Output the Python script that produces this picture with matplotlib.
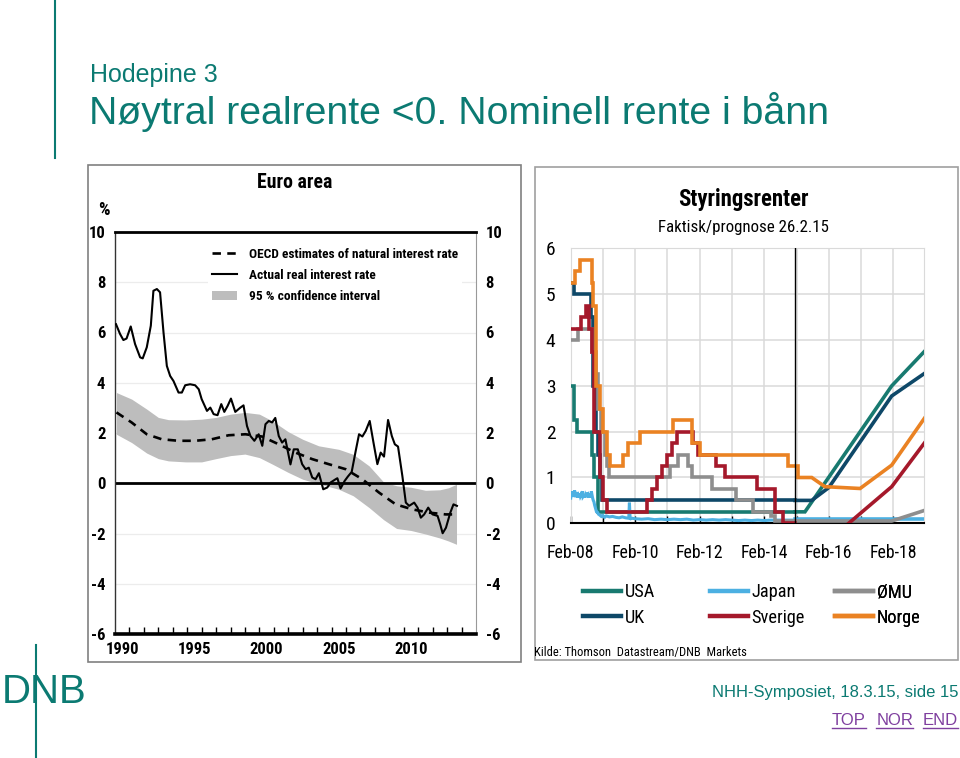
import matplotlib
matplotlib.use('Agg')
import matplotlib.pyplot as plt
from matplotlib import font_manager as fm
from matplotlib.font_manager import FontProperties
from matplotlib.lines import Line2D
from matplotlib.patches import Rectangle, Patch

# ---------------- data: left chart (Euro area) ----------------
real_years = [1990.07, 1990.35, 1990.58, 1990.80, 1991.09, 1991.39, 1991.74, 1991.92, 1992.20, 1992.48,
              1992.66, 1992.90, 1993.12, 1993.36, 1993.59, 1993.82, 1994.05, 1994.40, 1994.63, 1994.86,
              1995.20, 1995.55, 1995.80, 1996.00, 1996.37, 1996.60, 1996.83, 1997.10, 1997.36, 1997.57,
              1997.80, 1998.03, 1998.33, 1998.68, 1998.90, 1999.14, 1999.38, 1999.65, 1999.95, 2000.20,
              2000.42, 2000.65, 2000.88, 2001.10, 2001.34, 2001.57, 2001.80, 2002.15, 2002.38, 2002.66,
              2002.96, 2003.20, 2003.42, 2003.66, 2003.89, 2004.12, 2004.42, 2004.70, 2004.93, 2005.28,
              2005.40, 2005.62, 2005.90, 2006.13, 2006.39, 2006.67, 2006.90, 2007.13, 2007.36, 2007.64,
              2007.90, 2008.17, 2008.40, 2008.63, 2008.91, 2009.17, 2009.38, 2009.60, 2009.90, 2010.14,
              2010.37, 2010.72, 2010.95, 2011.18, 2011.41, 2011.69, 2011.99, 2012.34, 2012.52, 2012.69,
              2012.92, 2013.22, 2013.44, 2013.68]
real_rate = [6.33, 5.94, 5.70, 5.76, 6.24, 5.54, 5.01, 4.97, 5.41, 6.27,
             7.66, 7.73, 7.60, 6.00, 4.67, 4.27, 4.07, 3.61, 3.61, 3.90,
             3.94, 3.90, 3.74, 3.35, 2.88, 3.01, 2.75, 2.71, 3.15, 2.84,
             3.08, 3.37, 2.84, 3.01, 3.10, 2.28, 1.88, 1.69, 1.95, 1.49,
             2.35, 2.48, 2.42, 2.60, 1.88, 1.62, 1.75, 0.75, 1.35, 1.35,
             0.76, 0.56, 0.62, 0.23, 0.16, 0.40, -0.24, -0.17, 0.03, 0.16,
             0.20, -0.21, 0.09, 0.27, 0.45, 1.29, 1.95, 1.86, 2.08, 2.48,
             1.62, 0.76, 1.22, 1.06, 2.52, 1.88, 1.55, 1.46, 0.29, -0.77,
             -0.90, -0.77, -0.97, -1.37, -1.24, -0.97, -1.24, -1.30, -1.63, -1.99,
             -1.77, -1.17, -0.84, -0.90]

oecd_years = [1990.1, 1991.15, 1992.2, 1993.24, 1994.4, 1995.55, 1996.7, 1997.87, 1999.03, 2000.18,
              2001.34, 2002.5, 2003.66, 2004.8, 2005.97, 2007.13, 2008.28, 2009.44, 2010.6, 2011.76,
              2012.9, 2013.6]
oecd_natural = [2.82, 2.42, 1.95, 1.75, 1.69, 1.69, 1.75, 1.91, 1.95, 1.86,
                1.55, 1.22, 0.96, 0.76, 0.56, 0.16, -0.37, -0.84, -1.04, -1.17,
                -1.24, -1.24]

band_years = [1990.1, 1991.15, 1992.2, 1993.0, 1993.7, 1994.9, 1996.0, 1997.0, 1998.0, 1999.0,
              2000.0, 2000.9, 2002.0, 2003.0, 2004.1, 2005.5, 2006.5, 2007.6, 2008.6, 2009.5,
              2010.5, 2011.5, 2012.5, 2013.1, 2013.65]
band_upper = [3.61, 3.35, 2.95, 2.62, 2.53, 2.52, 2.55, 2.62, 2.75, 2.82,
              2.75, 2.48, 2.05, 1.75, 1.49, 1.35, 1.15, 0.69, 0.05, -0.10,
              -0.16, -0.28, -0.26, -0.18, -0.04]
band_lower = [1.95, 1.62, 1.20, 0.98, 0.89, 0.85, 0.85, 0.98, 1.10, 1.16,
              1.02, 0.76, 0.43, 0.16, -0.02, -0.24, -0.50, -0.97, -1.45, -1.80,
              -1.88, -2.02, -2.18, -2.30, -2.43]

left_yticks = [-6, -4, -2, 0, 2, 4, 6, 8, 10]
left_year_labels = ['1990', '1995', '2000', '2005', '2010']
left_label_years = [1990, 1995, 2000, 2005, 2010]

# ---------------- data: right chart (policy rates) ----------------
# x = years after Feb-08
usa_x = [0.00, 0.10, 0.20, 0.65, 0.72, 0.86, 6.95]
usa_y = [3.00, 2.25, 2.00, 1.50, 1.00, 0.25, 0.25]
usa_fc_x = [6.95, 7.26, 9.95, 10.96]
usa_fc_y = [0.25, 0.25, 3.00, 3.75]

uk_x = [0.00, 0.11, 0.62, 0.70, 0.78, 0.86, 0.91, 0.96, 6.95]
uk_y = [5.25, 5.00, 4.50, 3.00, 2.00, 1.50, 1.00, 0.50, 0.50]
uk_fc_x = [6.95, 7.47, 8.00, 9.95, 10.96]
uk_fc_y = [0.50, 0.50, 0.78, 2.78, 3.27]

japan_x = [0.00, 0.02, 0.04, 0.06, 0.08, 0.10, 0.12, 0.14, 0.16, 0.18,
           0.20, 0.22, 0.24, 0.26, 0.28, 0.30, 0.32, 0.34, 0.36, 0.38,
           0.40, 0.42, 0.44, 0.46, 0.48, 0.50, 0.52, 0.54, 0.56, 0.58,
           0.60, 0.62, 0.64, 0.66, 0.68, 0.70, 0.72, 0.74, 0.76, 0.78,
           0.80, 0.83, 0.86, 0.90, 0.95, 1.00, 1.05, 1.10, 1.20, 1.30,
           1.40, 1.50, 1.60, 1.70, 1.80, 1.82, 1.84, 1.86, 1.90, 2.00,
           2.20, 2.40, 2.60, 2.80, 3.00, 3.20, 3.40, 3.60, 3.80, 4.00,
           4.20, 4.40, 4.60, 4.80, 5.00, 5.20, 5.40, 5.60, 5.80, 6.00,
           6.20, 6.40, 6.60, 6.80, 6.95]
japan_y = [0.55, 0.70, 0.62, 0.58, 0.66, 0.60, 0.72, 0.57, 0.63, 0.60,
           0.68, 0.56, 0.61, 0.58, 0.65, 0.59, 0.62, 0.57, 0.70, 0.58,
           0.60, 0.63, 0.56, 0.62, 0.59, 0.67, 0.58, 0.61, 0.56, 0.64,
           0.60, 0.57, 0.70, 0.62, 0.55, 0.50, 0.47, 0.40, 0.35, 0.30,
           0.25, 0.24, 0.20, 0.18, 0.15, 0.17, 0.13, 0.16, 0.14, 0.15,
           0.13, 0.12, 0.14, 0.12, 0.11, 0.45, 0.12, 0.10, 0.11, 0.10,
           0.09, 0.10, 0.08, 0.09, 0.08, 0.09, 0.08, 0.09, 0.07, 0.08,
           0.07, 0.08, 0.07, 0.08, 0.07, 0.06, 0.07, 0.06, 0.07, 0.06,
           0.07, 0.07, 0.07, 0.07, 0.07]
japan_fc_x = [6.95, 10.96]
japan_fc_y = [0.09, 0.09]

emu_x = [0.00, 0.24, 0.66, 0.77, 0.86, 0.95, 1.05, 1.12, 1.20, 3.08,
         3.33, 3.64, 3.75, 4.37, 5.12, 5.66, 6.20, 6.33, 6.95]
emu_y = [4.00, 4.25, 3.75, 3.25, 2.50, 2.00, 1.50, 1.25, 1.00, 1.25,
         1.50, 1.25, 1.00, 0.75, 0.50, 0.25, 0.15, 0.05, 0.05]
emu_fc_x = [6.95, 9.95, 10.96]
emu_fc_y = [0.05, 0.05, 0.28]

se_x = [0.00, 0.31, 0.47, 0.58, 0.66, 0.72, 0.91, 0.99, 1.11, 2.37,
        2.51, 2.66, 2.82, 2.97, 3.13, 3.30, 3.78, 3.95, 4.50, 4.78,
        5.76, 6.33, 6.59, 6.95]
se_y = [4.25, 4.50, 4.75, 4.25, 3.75, 2.00, 1.00, 0.50, 0.25, 0.50,
        0.75, 1.00, 1.25, 1.50, 1.75, 2.00, 1.75, 1.50, 1.25, 1.00,
        0.75, 0.25, 0.00, -0.10]
se_fc_x = [6.95, 8.45, 9.95, 10.96]
se_fc_y = [-0.10, -0.10, 0.80, 1.75]

no_x = [0.00, 0.12, 0.30, 0.65, 0.70, 0.78, 0.91, 1.01, 1.12, 1.22,
        1.63, 1.79, 2.15, 3.18, 3.75, 4.00, 6.74, 7.05]
no_y = [5.25, 5.50, 5.75, 5.25, 4.75, 3.00, 2.50, 2.00, 1.50, 1.25,
        1.50, 1.75, 2.00, 2.25, 1.75, 1.50, 1.25, 1.00]
no_fc_x = [7.05, 7.47, 7.88, 8.97, 9.95, 10.96]
no_fc_y = [1.00, 1.00, 0.80, 0.76, 1.27, 2.29]

forecast_date = 6.95
right_xmax = 10.96
right_major = [0, 2, 4, 6, 8, 10]
right_minor = [1, 3, 5, 7, 9]
right_xlabels = ['Feb-08', 'Feb-10', 'Feb-12', 'Feb-14', 'Feb-16', 'Feb-18']
right_yticks = [0, 1, 2, 3, 4, 5, 6]

# ---------------- style ----------------
SANS = 'Liberation Sans'
entries = fm.fontManager.ttflist
names = {f.name for f in entries}
COND_REG = COND_BOLD = None
for cand in ('Liberation Sans Narrow', 'Roboto Condensed', 'Open Sans Condensed', 'Arial Narrow'):
    if cand in names:
        regs = [f for f in entries if f.name == cand and f.style == 'normal']
        r = [f for f in regs if f.weight in (400, 'normal', 'regular')]
        b = [f for f in regs if f.weight in (700, 'bold')]
        if r and b:
            COND_REG, COND_BOLD = r[0].fname, b[0].fname
            break
NS = 1.0 if COND_REG else 0.88

TEAL = '#0b7a72'
PURPLE = '#7f3f9f'
C_USA, C_UK, C_JP, C_SE, C_EMU, C_NO = '#187a70', '#0e4868', '#4cb0e2', '#a5192b', '#8e8e8e', '#ea8223'

W, H = 960.0, 758.0
def fx(px):
    return px / W
def fy(py):
    return 1 - py / H

def fpn(size, bold=False):
    if COND_REG:
        return FontProperties(fname=COND_BOLD if bold else COND_REG, size=size)
    return FontProperties(family=[SANS], weight='bold' if bold else 'normal', size=size * NS)

fig = plt.figure(figsize=(9.6, 7.58), dpi=100)
fig.patch.set_facecolor('white')

# ---------------- slide decoration ----------------
fig.add_artist(Line2D([fx(55), fx(55)], [fy(0), fy(158)], color=TEAL, lw=1.5))
fig.add_artist(Line2D([fx(36), fx(36)], [fy(645), fy(758)], color=TEAL, lw=1.5))
fig.text(fx(90), fy(82), 'Hodepine 3', fontsize=18, color=TEAL, family=SANS, va='baseline')
fig.text(fx(89), fy(124), 'Nøytral realrente <0. Nominell rente i bånn', fontsize=28.3,
         color=TEAL, family=SANS, va='baseline')
fig.text(fx(2), fy(703), 'DNB', fontsize=29, color=TEAL, family=SANS, va='baseline')
fig.text(fx(958), fy(697), 'NHH-Symposiet, 18.3.15, side 15', fontsize=12, color=TEAL,
         family=SANS, va='baseline', ha='right')
for word, xr in [('TOP', 866), ('NOR', 913), ('END', 958)]:
    fig.text(fx(xr), fy(725), word, fontsize=12, color=PURPLE, family=SANS,
             va='baseline', ha='right')
fig.canvas.draw()
for t in fig.texts:
    if t.get_text() in ('TOP', 'NOR', 'END'):
        bb = t.get_window_extent().transformed(fig.transFigure.inverted())
        fig.add_artist(Line2D([bb.x0, bb.x1], [fy(728), fy(728)], color=PURPLE, lw=1))

# boxes
fig.add_artist(Rectangle((fx(88), fy(662)), fx(521) - fx(88), (662 - 165) / H,
                         transform=fig.transFigure, fill=False, edgecolor='#808080', lw=1.2))
fig.add_artist(Rectangle((fx(535), fy(660)), fx(958) - fx(535), (660 - 167) / H,
                         transform=fig.transFigure, fill=False, edgecolor='#a0a0a0', lw=1.2))

# ---------------- left chart ----------------
ax1 = fig.add_axes([fx(115), fy(634), 361 / W, 402 / H])
ax1.set_xlim(1990, 2015)
ax1.set_ylim(-6, 10)
for v in left_yticks:
    if v not in (-6, 0, 10):
        ax1.axhline(v, color='#ececec', lw=0.9, zorder=0)
ax1.fill_between(band_years, band_lower, band_upper, color='#bdbdbd', lw=0, zorder=1)
ax1.axhline(0, color='k', lw=2.0, zorder=2)
oecd_line, = ax1.plot(oecd_years, oecd_natural, color='k', lw=1.9, ls=(0, (3.2, 2.4)), zorder=3)
real_line, = ax1.plot(real_years, real_rate, color='k', lw=1.5, zorder=4)

ax1.spines['top'].set_linewidth(2.0)
ax1.spines['bottom'].set_linewidth(2.6)
ax1.spines['left'].set_linewidth(1.0)
ax1.spines['left'].set_color('#333333')
ax1.spines['right'].set_linewidth(0.8)
ax1.spines['right'].set_color('#999999')

ax1.set_yticks(left_yticks)
ax1.set_yticklabels([str(v) for v in left_yticks])
ax1.tick_params(axis='y', length=0, left=False, right=False, labelleft=True, labelright=True, pad=7)
for tk in ax1.yaxis.get_major_ticks():
    tk.label1.set_fontproperties(fpn(12, True))
    tk.label2.set_fontproperties(fpn(12, True))

ax1.set_xticks(list(range(1991, 2015)))
ax1.tick_params(axis='x', which='major', direction='in', length=5, width=1, labelbottom=False)
ax1.set_xticks([y + 0.5 for y in left_label_years], minor=True)
ax1.set_xticklabels(left_year_labels, minor=True)
ax1.tick_params(axis='x', which='minor', length=0, pad=6)
for lab in ax1.get_xticklabels(minor=True):
    lab.set_fontproperties(fpn(12, True))

h_band = Patch(facecolor='#bdbdbd', edgecolor='none')
ax1.legend([oecd_line, real_line, h_band],
           ['OECD estimates of natural interest rate', 'Actual real interest rate',
            '95 % confidence interval'],
           loc='upper left', bbox_to_anchor=(fx(208), fy(244)), bbox_transform=fig.transFigure,
           prop=fpn(9.6, True), frameon=True, facecolor='white', edgecolor='none',
           framealpha=1, fancybox=False, handlelength=1.9, handletextpad=0.9,
           labelspacing=0.6, borderpad=0.3, borderaxespad=0)

fig.text(fx(295), fy(188), 'Euro area', fontproperties=fpn(14.2, True), ha='center', va='baseline')
fig.text(fx(104), fy(215), '%', fontproperties=fpn(13, True), ha='center', va='baseline')

# ---------------- right chart ----------------
ax2 = fig.add_axes([fx(570.7), fy(523.3), 353.6 / W, 274.8 / H])
ax2.set_xlim(0, right_xmax)
ax2.set_ylim(0, 6)
ax2.set_axisbelow(True)
ax2.set_xticks(right_major)
ax2.set_xticklabels(right_xlabels)
ax2.set_xticks(right_minor, minor=True)
ax2.set_yticks(right_yticks)
ax2.set_yticklabels([str(v) for v in right_yticks])
ax2.grid(which='both', color='#dadada', lw=1.1)
ax2.tick_params(axis='x', which='both', direction='in', length=5, width=1, color='k', pad=15)
ax2.tick_params(axis='y', length=0, pad=11)
for lab in ax2.get_xticklabels():
    lab.set_fontproperties(fpn(12.8))
for lab in ax2.get_yticklabels():
    lab.set_fontproperties(fpn(14))
for s in ('top', 'left', 'right'):
    ax2.spines[s].set_color('#dadada')
ax2.spines['bottom'].set_linewidth(1.5)

LW = 2.6
series = [
    ('USA', C_USA, usa_x, usa_y, usa_fc_x, usa_fc_y, True),
    ('UK', C_UK, uk_x, uk_y, uk_fc_x, uk_fc_y, True),
    ('Japan', C_JP, japan_x, japan_y, japan_fc_x, japan_fc_y, False),
    ('ØMU', C_EMU, emu_x, emu_y, emu_fc_x, emu_fc_y, True),
    ('Sverige', C_SE, se_x, se_y, se_fc_x, se_fc_y, True),
    ('Norge', C_NO, no_x, no_y, no_fc_x, no_fc_y, True),
]
handles = {}
for name, col, hx, hy, fcx, fcy, step in series:
    ax2.plot(hx, hy, color=col, lw=LW if step else 2.2,
             drawstyle='steps-post' if step else 'default', solid_joinstyle='miter', zorder=3)
    ax2.plot(fcx, fcy, color=col, lw=LW, solid_joinstyle='miter', zorder=3)
    handles[name] = Line2D([], [], color=col, lw=3.2)
ax2.axvline(forecast_date, color='k', lw=1.0, zorder=4)

cols = [(583, ['USA', 'UK']), (710, ['Japan', 'Sverige']), (835, ['ØMU', 'Norge'])]
for cx, names_ in cols:
    lg = ax2.legend([handles[n] for n in names_], names_, loc='upper left',
                    bbox_to_anchor=(fx(cx), fy(583)), bbox_transform=fig.transFigure,
                    prop=fpn(13.2), frameon=False, handlelength=2.05, handletextpad=0.22,
                    labelspacing=0.42, borderpad=0, borderaxespad=0)
    ax2.add_artist(lg)

fig.text(fx(743), fy(206), 'Styringsrenter', fontproperties=fpn(16.4, True), ha='center', va='baseline')
fig.text(fx(743), fy(232), 'Faktisk/prognose 26.2.15', fontproperties=fpn(12.2), ha='center', va='baseline')
fig.text(fx(534), fy(656), 'Kilde: Thomson  Datastream/DNB  Markets', fontproperties=fpn(9),
         ha='left', va='baseline')

fig.savefig('out.png', dpi=100, facecolor='white')
